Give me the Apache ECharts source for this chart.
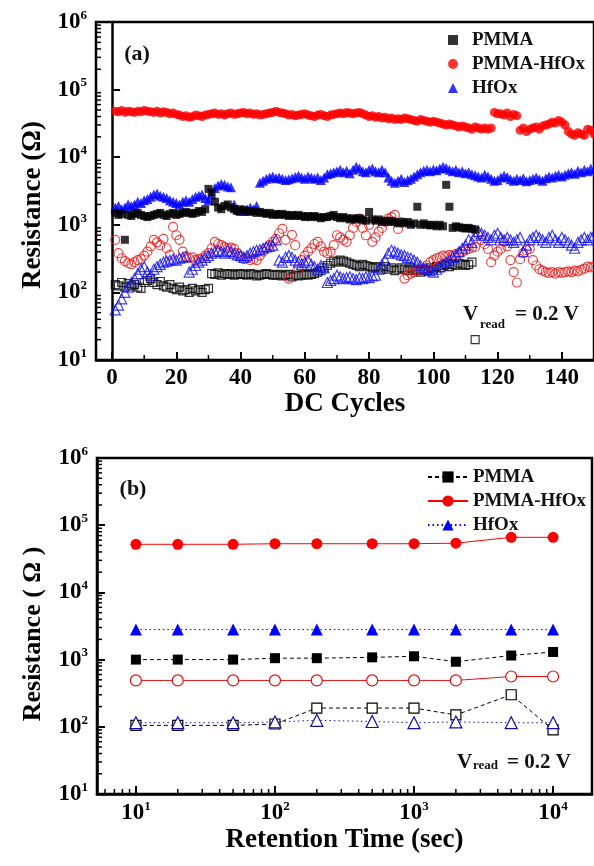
<!DOCTYPE html>
<html><head><meta charset="utf-8">
<script src="https://cdn.jsdelivr.net/npm/echarts@6/dist/echarts.min.js"></script>
<style>html,body{margin:0;padding:0;background:#fff}#c{width:594px;height:866px}</style>
</head><body><div id="c"></div>
<script>
// ---------- Panel (a): DC cycles ----------
const pmmaHRS = [1500,1400,1450,600,1400,1350,1450,1500,1400,1350,
 1300,1350,1400,1450,1500,1400,1350,1450,1500,1400,
 1450,1500,1550,1500,1450,1500,1600,1550,1700,3400,
 3000,2200,1800,1700,1900,2000,1800,1700,1600,1700,
 1650,1600,1550,1600,1500,1550,1500,1450,1500,1400,
 1450,1400,1450,1400,1350,1400,1350,1400,1350,1300,
 1350,1300,1350,1300,1250,1300,1300,1350,1400,1300,
 1250,1300,1250,1200,1250,1200,1250,1200,1150,1550,
 1200,1150,1200,1100,1150,1100,1150,1100,1050,1100,
 1050,1100,1000,1050,1850,1000,1050,1000,980,1000,
 950,1000,950,3900,1850,900,950,920,900,880,
 900,870,850];
const pmmaLRS = [130,125,140,120,135,125,130,120,115,140,
 150,160,140,130,145,125,120,130,115,110,
 120,105,110,100,115,105,110,100,110,115,
 190,185,195,180,190,185,190,180,185,190,
 185,180,190,185,175,180,185,190,185,180,
 180,185,175,180,185,170,180,175,180,185,
 180,185,190,200,210,230,250,270,290,280,
 300,290,280,270,260,250,240,260,250,240,
 230,240,230,220,240,220,230,210,220,230,
 220,210,230,220,210,200,220,210,230,220,
 240,230,250,260,240,260,250,270,260,250,
 260,280,20];
const phHRS = [48000,47000,49000,46000,48000,47000,46000,48000,47000,49000,
 48000,47000,46000,48000,45000,47000,46000,44000,45000,43000,
 42000,40000,41000,39000,40000,42000,41000,40000,42000,43000,
 44000,45000,43000,44000,42000,44000,45000,43000,44000,45000,
 46000,44000,45000,43000,44000,42000,43000,44000,45000,46000,
 48000,46000,45000,44000,42000,43000,41000,42000,43000,44000,
 42000,41000,40000,42000,43000,41000,40000,42000,43000,44000,
 45000,44000,46000,45000,44000,45000,46000,44000,42000,40000,
 41000,39000,40000,38000,39000,37000,38000,36000,37000,36000,
 38000,37000,36000,35000,34000,36000,35000,34000,33000,34000,
 33000,32000,31000,30000,31000,30000,29000,28000,29000,28000,
 27000,26000,28000,27000,26000,27000,26000,27000,46000,44000,
 44000,42000,45000,40000,43000,41000,25000,27000,24000,26000,
 27000,28000,26000,29000,30000,31000,33000,32000,35000,33000,
 30000,24000,22000,21000,23000,22000,21000,26000,25000,22000];
const phLRS = [600,380,320,290,270,260,280,300,310,350,
 400,480,600,550,500,620,450,360,930,700,
 600,400,340,320,330,300,310,320,350,380,
 450,560,520,500,470,450,460,440,380,340,
 310,320,300,310,300,350,400,450,500,560,
 620,750,870,600,160,710,500,220,300,350,
 400,450,520,560,480,400,380,400,500,700,
 650,600,560,700,900,1100,1230,900,700,1000,
 560,650,790,900,1100,1230,1300,1400,870,1100,
 160,180,190,200,210,220,220,250,280,300,
 320,330,350,340,360,350,370,380,400,420,
 440,460,470,710,600,520,440,280,350,400,
 440,560,480,300,200,140,310,380,420,440,
 300,250,220,210,200,195,200,190,200,195,
 200,205,200,210,205,215,225,240,235,240];
const hfHRS = [1800,1900,1700,1800,2000,1900,2000,2200,2100,2300,
 2400,2600,2800,2900,2700,2600,2500,2300,2200,2100,
 2000,2200,2300,2200,2400,2600,2700,2800,2500,2300,
 2800,3500,3800,4000,3900,3700,3600,2000,1700,1600,
 1600,1700,1800,1700,1900,4200,4500,4800,5000,5200,
 4900,5000,4800,4600,4700,4900,5100,5300,5000,4800,
 5200,5000,4800,5000,4600,5000,5600,5800,6000,6200,
 6500,6000,6300,5800,6500,7200,6800,6200,6000,6500,
 6800,6200,6000,6500,6000,5000,4500,4200,4500,4800,
 4300,4600,4800,5200,5600,6000,6300,6500,6200,6600,
 6400,6800,7200,6900,6500,6200,6500,6000,6200,5800,
 6000,5600,5400,5200,5000,5500,5200,4800,4500,4600,
 5000,5300,5100,4700,4500,4800,4600,4900,4400,4600,
 4800,5000,4700,4500,4900,5200,5000,5300,5500,5200,
 5500,5800,6000,5700,6300,6000,6500,6200,6800,6500];
const hfLRS = [55,65,80,100,120,140,160,190,220,240,
 200,180,220,240,260,280,290,300,310,300,
 320,330,340,200,220,250,280,300,330,350,
 380,400,420,400,380,420,400,380,360,350,
 330,350,380,400,420,430,450,470,480,500,
 600,300,280,330,350,330,300,280,260,280,
 300,260,240,220,250,230,140,150,160,180,
 170,160,165,170,160,155,165,160,170,165,
 175,180,220,260,300,380,420,400,380,360,
 350,330,320,300,280,250,230,220,210,200,
 220,240,260,280,300,330,360,400,450,500,
 600,550,700,800,750,700,650,600,700,750,
 650,600,650,600,550,600,650,400,500,600,
 650,700,650,600,550,650,700,600,550,650,
 600,550,500,450,550,600,650,600,650,700];
const cycleTicks = [0,20,40,60,80,100,120,140];
const cycleMinorTicks = [10,30,50,70,90,110,130,150];

// ---------- Panel (b): retention ----------
const retTime  = [10,20,50,100,200,500,1000,2000,5000,10000];
const pmmaHRSb = [1000,1000,1000,1050,1050,1080,1120,930,1150,1300];
const pmmaLRSb = [105,105,105,110,190,190,190,150,300,90];
const phHRSb   = [52000,52000,52000,53000,53000,53000,53000,54000,66000,66000];
const phLRSb   = [490,490,490,490,490,490,490,490,560,560];
const hfHRSb   = [2800,2800,2800,2800,2800,2800,2800,2800,2800,2800];
const hfLRSb   = [115,115,115,118,125,120,115,118,115,115];

const FONT = '"Liberation Serif","Times New Roman",serif';
const minorY = [];
for (let e = 1; e <= 5; e++) for (let m = 2; m <= 9; m++) minorY.push(m * Math.pow(10, e));
const minorXb = [];
for (let e = 0; e <= 4; e++) for (let m = 2; m <= 9; m++) {
  const v = m * Math.pow(10, e);
  if (v > 5.25 && v < 19050) minorXb.push(v);
}

const seq = arr => arr.map((v, i) => [i + 1, v]);
const pair = (xs, ys) => xs.map((x, i) => [x, ys[i]]);
const supLabel = v => '{b|10}{s|' + Math.round(Math.log10(v)) + '}';
const rich = {
  b: {fontFamily: FONT, fontSize: 23, fontWeight: 'bold', color: '#000', lineHeight: 26},
  s: {fontFamily: FONT, fontSize: 13, fontWeight: 'bold', color: '#000', verticalAlign: 'top', lineHeight: 13}
};
const axLine = {show: true, lineStyle: {color: '#000', width: 2.5}};
const majTick = {show: true, inside: true, length: 8, lineStyle: {color: '#000', width: 2}};

function minorSeries(xi, yi, data, dx, dy) {
  return {
    type: 'custom', xAxisIndex: xi, yAxisIndex: yi, silent: true, z: 10, data: data,
    encode: {x: 0, y: 1},
    renderItem: function (p, api) {
      const c = api.coord([api.value(0), api.value(1)]);
      return {type: 'line', shape: {x1: c[0], y1: c[1], x2: c[0] + dx, y2: c[1] + dy},
              style: {stroke: '#000', lineWidth: 1.5}};
    }
  };
}
const openStyle = c => ({color: 'rgba(255,255,255,0)', borderColor: c, borderWidth: 1.2});

const chart = echarts.init(document.getElementById('c'), null, {renderer: 'canvas'});
chart.setOption({
  animation: false,
  backgroundColor: '#fff',
  grid: [
    {left: 96, top: 22, width: 500, height: 338, show: true, borderColor: '#000', borderWidth: 2.5},
    {left: 97, top: 458, width: 495, height: 336, show: true, borderColor: '#000', borderWidth: 2.5}
  ],
  xAxis: [
    {type: 'value', gridIndex: 0, min: -5, max: 150, axisLine: axLine, splitLine: {show: false},
     axisTick: Object.assign({customValues: cycleTicks}, majTick),
     axisLabel: {customValues: cycleTicks, margin: 7, color: '#000', fontFamily: FONT, fontSize: 23, fontWeight: 'bold'},
     name: 'DC Cycles', nameLocation: 'middle', nameGap: 31,
     nameTextStyle: {fontFamily: FONT, fontSize: 27, fontWeight: 'bold', color: '#000'}},
    {type: 'log', gridIndex: 1, min: 5.25, max: 19050, logBase: 10, axisLine: axLine, splitLine: {show: false},
     axisTick: majTick,
     axisLabel: {formatter: supLabel, rich: rich, margin: 6, showMinLabel: false, showMaxLabel: false},
     name: 'Retention Time (sec)', nameLocation: 'middle', nameGap: 33,
     nameTextStyle: {fontFamily: FONT, fontSize: 27, fontWeight: 'bold', color: '#000'}}
  ],
  yAxis: [
    {type: 'log', gridIndex: 0, min: 10, max: 1000000, logBase: 10, axisLine: axLine, splitLine: {show: false},
     axisTick: majTick, axisLabel: {formatter: supLabel, rich: rich, margin: 9}},
    {type: 'log', gridIndex: 1, min: 10, max: 1000000, logBase: 10, axisLine: axLine, splitLine: {show: false},
     axisTick: majTick, axisLabel: {formatter: supLabel, rich: rich, margin: 9}}
  ],
  legend: [
    {data: ['PMMA', 'PMMA-HfOx', 'HfOx'], orient: 'vertical', left: 443, top: 25,
     itemWidth: 10, itemHeight: 10, itemGap: 4, selectedMode: false,
     textStyle: {fontFamily: FONT, fontSize: 19, fontWeight: 'bold', color: '#111', lineHeight: 20, padding: [0, 0, 0, 9]}},
    {data: ['PMMA ', 'PMMA-HfOx ', 'HfOx '], orient: 'vertical', left: 422, top: 462,
     itemWidth: 40, itemHeight: 14, itemGap: 4, selectedMode: false,
     formatter: n => n.trim(),
     textStyle: {fontFamily: FONT, fontSize: 19, fontWeight: 'bold', color: '#111', lineHeight: 20}}
  ],
  graphic: [
    {type: 'text', x: 137, y: 54, style: {text: '(a)', align: 'center', verticalAlign: 'middle', font: 'bold 22px ' + FONT, fill: '#111'}},
    {type: 'text', x: 133, y: 489, style: {text: '(b)', align: 'center', verticalAlign: 'middle', font: 'bold 22px ' + FONT, fill: '#111'}},
    {type: 'text', x: 33, y: 205, rotation: Math.PI / 2, style: {text: 'Resistance (Ω)', align: 'center', verticalAlign: 'middle', font: 'bold 27px ' + FONT, fill: '#000'}},
    {type: 'text', x: 33, y: 634, rotation: Math.PI / 2, style: {text: 'Resistance ( Ω )', align: 'center', verticalAlign: 'middle', font: 'bold 26px ' + FONT, fill: '#000'}},
    {type: 'text', x: 463, y: 315, style: {text: 'V', verticalAlign: 'middle', font: 'bold 21px ' + FONT, fill: '#111'}},
    {type: 'text', x: 480, y: 325, style: {text: 'read', verticalAlign: 'middle', font: 'bold 13px ' + FONT, fill: '#111'}},
    {type: 'text', x: 515, y: 315, style: {text: '= 0.2 V', verticalAlign: 'middle', font: 'bold 21px ' + FONT, fill: '#111'}},
    {type: 'text', x: 457, y: 763, style: {text: 'V', verticalAlign: 'middle', font: 'bold 21px ' + FONT, fill: '#111'}},
    {type: 'text', x: 473, y: 766, style: {text: 'read', verticalAlign: 'middle', font: 'bold 13px ' + FONT, fill: '#111'}},
    {type: 'text', x: 507, y: 763, style: {text: '= 0.2 V', verticalAlign: 'middle', font: 'bold 21px ' + FONT, fill: '#111'}}
  ],
  series: [
    // panel (a) open (LRS) markers
    {name: 'PMMA LRS', type: 'scatter', xAxisIndex: 0, yAxisIndex: 0, data: seq(pmmaLRS), symbol: 'rect', symbolSize: 8, itemStyle: openStyle('#000')},
    {name: 'PMMA-HfOx LRS', type: 'scatter', xAxisIndex: 0, yAxisIndex: 0, data: seq(phLRS), symbol: 'circle', symbolSize: 9, itemStyle: openStyle('#e81818')},
    {name: 'HfOx LRS', type: 'scatter', xAxisIndex: 0, yAxisIndex: 0, data: seq(hfLRS), symbol: 'triangle', symbolSize: 10, itemStyle: openStyle('#1010f0')},
    // panel (a) filled (HRS) markers
    {name: 'PMMA', type: 'scatter', xAxisIndex: 0, yAxisIndex: 0, data: seq(pmmaHRS), symbol: 'rect', symbolSize: 8, itemStyle: {color: '#000'}, z: 3},
    {name: 'PMMA-HfOx', type: 'scatter', xAxisIndex: 0, yAxisIndex: 0, data: seq(phHRS), symbol: 'circle', symbolSize: 9, itemStyle: {color: '#ff0000'}},
    {name: 'HfOx', type: 'scatter', xAxisIndex: 0, yAxisIndex: 0, data: seq(hfHRS), symbol: 'triangle', symbolSize: 10, itemStyle: {color: '#0000ff'}},
    // panel (b)
    {name: 'PMMA ', type: 'line', xAxisIndex: 1, yAxisIndex: 1, data: pair(retTime, pmmaHRSb), symbol: 'rect', symbolSize: 10,
     itemStyle: {color: '#000'}, lineStyle: {color: '#000', width: 1, type: [4, 3]}},
    {name: 'PMMA-HfOx ', type: 'line', xAxisIndex: 1, yAxisIndex: 1, data: pair(retTime, phHRSb), symbol: 'circle', symbolSize: 11,
     itemStyle: {color: '#ff0000'}, lineStyle: {color: '#ff0000', width: 1}},
    {name: 'HfOx ', type: 'line', xAxisIndex: 1, yAxisIndex: 1, data: pair(retTime, hfHRSb), symbol: 'triangle', symbolSize: 12,
     itemStyle: {color: '#0000ff'}, lineStyle: {color: '#0000ff', width: 1, type: [1.5, 3]}},
    {name: 'PMMA LRS b', type: 'line', xAxisIndex: 1, yAxisIndex: 1, data: pair(retTime, pmmaLRSb), symbol: 'rect', symbolSize: 10,
     itemStyle: {color: '#fff', borderColor: '#000', borderWidth: 1.2}, lineStyle: {color: '#000', width: 1, type: [4, 3]}},
    {name: 'PMMA-HfOx LRS b', type: 'line', xAxisIndex: 1, yAxisIndex: 1, data: pair(retTime, phLRSb), symbol: 'circle', symbolSize: 11,
     itemStyle: {color: '#fff', borderColor: '#e01010', borderWidth: 1.2}, lineStyle: {color: '#e01010', width: 1}},
    {name: 'HfOx LRS b', type: 'line', xAxisIndex: 1, yAxisIndex: 1, data: pair(retTime, hfLRSb), symbol: 'triangle', symbolSize: 12,
     itemStyle: {color: '#fff', borderColor: '#1010a0', borderWidth: 1.2}, lineStyle: {color: '#1010a0', width: 1, type: [1.5, 3]}},
    // minor ticks
    minorSeries(0, 0, minorY.map(v => [-5, v]), 5, 0),
    minorSeries(0, 0, cycleMinorTicks.map(v => [v, 10]), 0, -5),
    minorSeries(1, 1, minorY.map(v => [5.25, v]), 5, 0),
    minorSeries(1, 1, minorXb.map(v => [v, 10]), 0, -5)
  ]
});
</script></body></html>
